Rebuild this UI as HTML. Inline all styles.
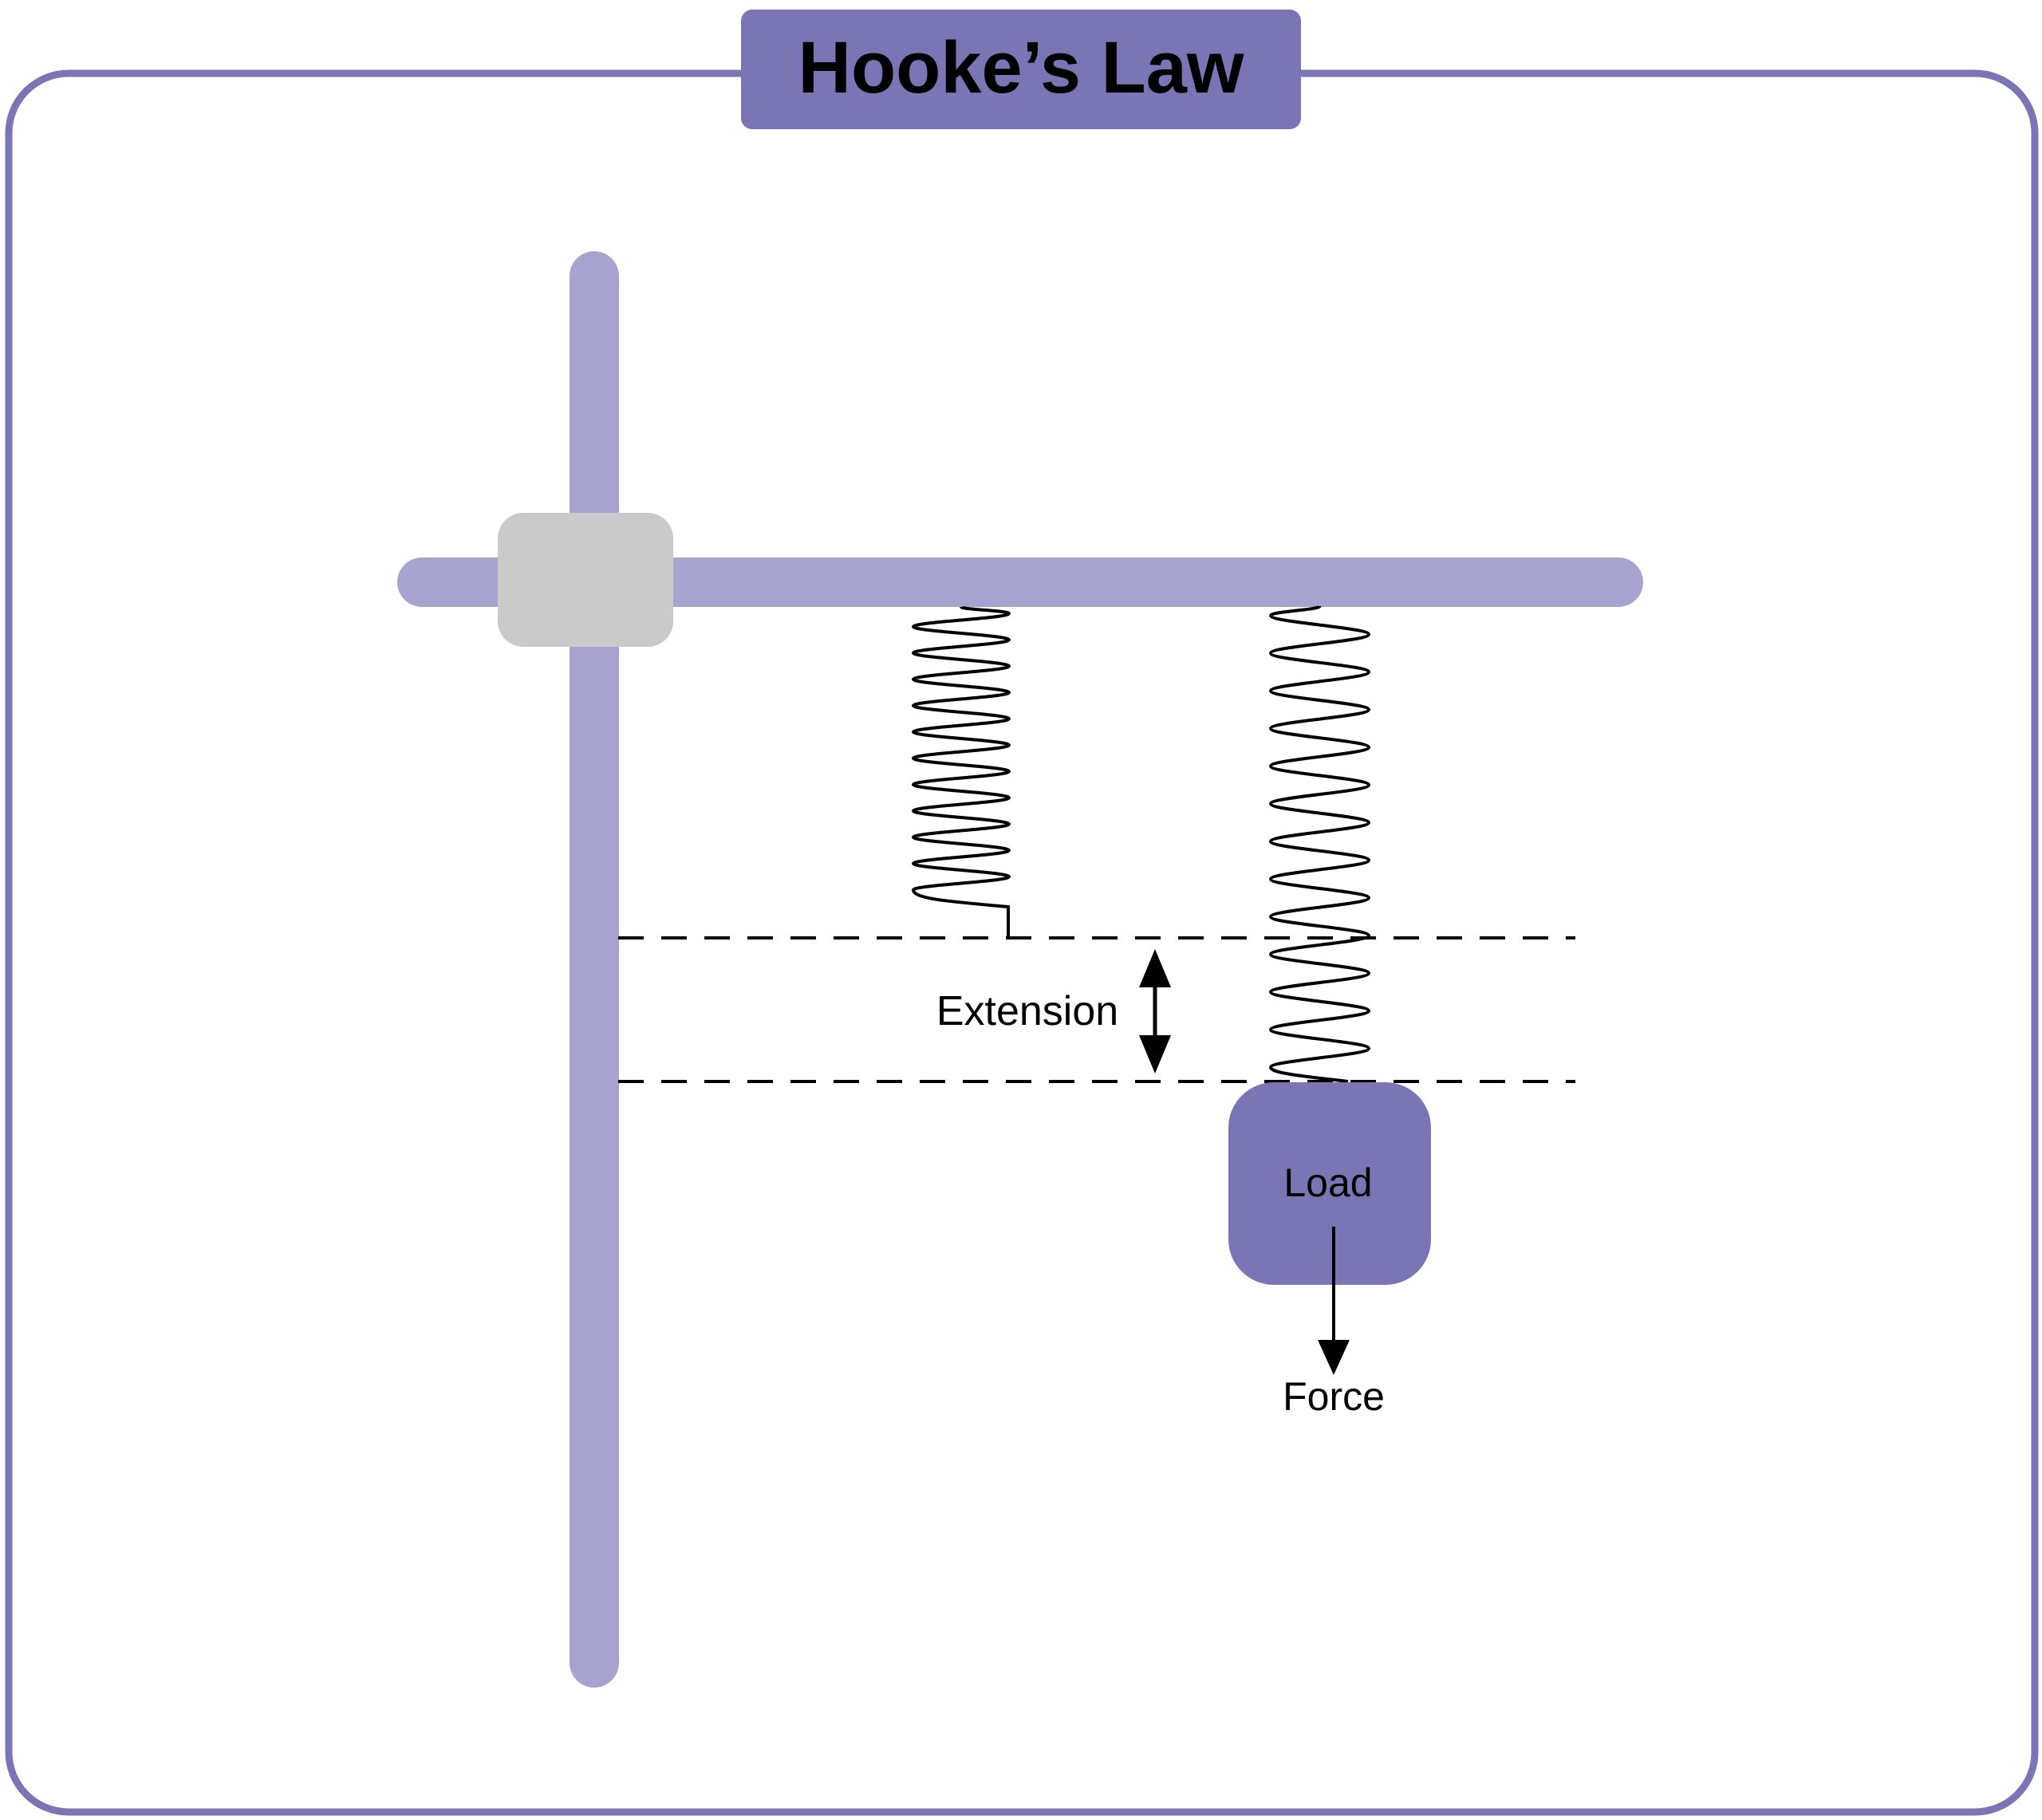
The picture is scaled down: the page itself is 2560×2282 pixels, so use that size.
<!DOCTYPE html>
<html><head><meta charset="utf-8"><style>
html,body{margin:0;padding:0;background:#fff;}
svg{display:block;}
</style></head><body>
<svg id="s" width="2560" height="2282" viewBox="0 0 2560 2282" xmlns="http://www.w3.org/2000/svg">
<rect x="11" y="92" width="2540" height="2180" rx="75" fill="#fff" stroke="#7a76b6" stroke-width="9"/>
<rect x="929" y="12" width="702" height="150" rx="14" fill="#7a76b6"/>
<text x="1280" y="116" text-anchor="middle" font-family="Liberation Sans, sans-serif" font-weight="bold" font-size="92" fill="#000">Hooke’s Law</text>
<line x1="745" y1="346" x2="745" y2="2085" stroke="#a6a3d1" stroke-width="62" stroke-linecap="round"/>
<line x1="529" y1="730" x2="2029" y2="730" stroke="#a6a3d1" stroke-width="62" stroke-linecap="round"/>
<rect x="624" y="643" width="220" height="168" rx="32" fill="#cacaca"/>
<path id="ls" fill="none" stroke="#000" stroke-width="4"/>
<path id="rs" fill="none" stroke="#000" stroke-width="4"/>
<g stroke="#000" stroke-width="4" stroke-dasharray="32 22">
<line x1="775" y1="1176" x2="1975" y2="1176"/>
<line x1="775" y1="1356" x2="1975" y2="1356"/>
</g>
<rect x="1540" y="1357" width="254" height="254" rx="57" fill="#7a76b6"/>
<text x="1665" y="1500" text-anchor="middle" font-family="Liberation Sans, sans-serif" font-size="50" fill="#000">Load</text>
<line x1="1672" y1="1538" x2="1672" y2="1690" stroke="#000" stroke-width="4"/>
<polygon points="1652,1680 1692,1680 1672,1724" fill="#000"/>
<text x="1672" y="1768" text-anchor="middle" font-family="Liberation Sans, sans-serif" font-size="50" fill="#000">Force</text>
<line x1="1448" y1="1220" x2="1448" y2="1318" stroke="#000" stroke-width="5"/>
<polygon points="1428,1238 1468,1238 1448,1190" fill="#000"/>
<polygon points="1428,1298 1468,1298 1448,1346" fill="#000"/>
<text x="1288" y="1285" text-anchor="middle" font-family="Liberation Sans, sans-serif" font-size="52" fill="#000">Extension</text>
</svg>
<script>
function coil(xL,xR,yStart,firstRight,period,n){
  var h=period/2,k=0.3642*h;
  var x0=(xL+xR)/2, y=yStart;
  var d="M"+x0+" "+y;
  var side=firstRight;
  var tx=side?xR:xL, ty=y+h/2;
  d+=" C"+x0+" "+(y+h*0.2)+" "+tx+" "+(ty-k*0.6)+" "+tx+" "+ty;
  y=ty;
  for(var i=0;i<n;i++){
    side=!side;
    var nx=side?xR:xL, px=side?xL:xR, ny=y+h;
    d+=" C"+px+" "+(y+k)+" "+nx+" "+(ny-k)+" "+nx+" "+ny;
    y=ny;
  }
  return {d:d,y:y};
}
var l=coil(1145,1265,761,true,33,21);
document.getElementById('ls').setAttribute('d',l.d+" C1145 1128 1200 1131 1264 1137 L1264 1176");
var r=coil(1593,1716,760,false,47.2,24);
document.getElementById('rs').setAttribute('d',r.d+" C1593 1346 1640 1350 1690 1356");
</script>
</body></html>
